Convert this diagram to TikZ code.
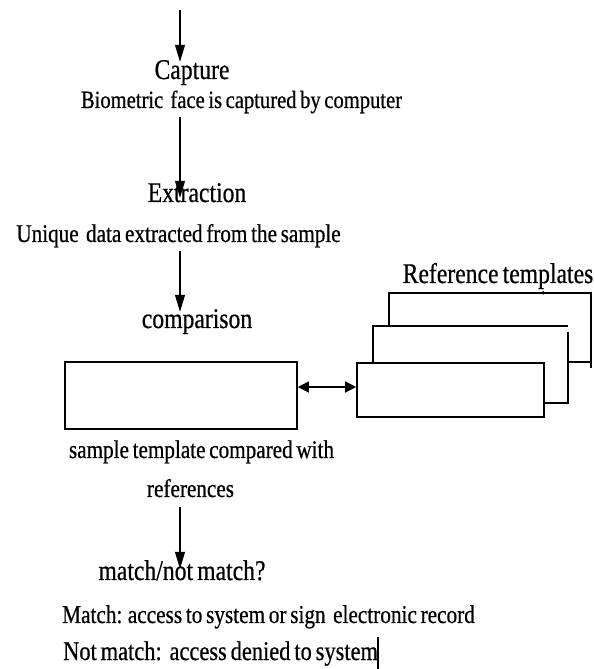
\documentclass[tikz,border=0pt]{standalone}
\usepackage{fontspec}
\setmainfont{Liberation Serif}[FakeStretch=0.83,WordSpace=0.7,FakeBold=0.6]
\usetikzlibrary{arrows.meta}
\begin{document}
\begin{tikzpicture}[x=1pt,y=1pt,
  title/.style={inner sep=0pt,anchor=base,text height=0.7em,text depth=0.2em,
    font=\fontsize{28.5}{31}\selectfont},
  body/.style={inner sep=0pt,anchor=base,text height=0.7em,text depth=0.2em,
    font=\fontsize{25.5}{28}\selectfont},
  flow/.style={line width=1.2pt,-{Triangle[length=17pt,width=10pt]}},
  link/.style={line width=1.4pt,{Triangle[length=11pt,width=11pt]}-{Triangle[length=11pt,width=11pt]}},
  frame/.style={draw,line width=1.6pt,inner sep=0pt},
  edge/.style={line width=1.6pt},
]
\useasboundingbox (0,0) rectangle (594,669);

% process steps and their captions
\coordinate (top) at (180,659);
\node[title] (capture) at (192,590) {Capture};
\node[body,font=\fontsize{24.8}{27}\selectfont] (bio) at (241.5,561)
  {Biometric~~face is captured by computer};
\node[title] (extraction) at (197,467) {Extraction};
\node[body] (unique) at (178.5,427) {Unique~~data extracted from the sample};
\node[title] (comparison) at (197,341) {comparison};

% sample template box
\node[frame,minimum width=232pt,minimum height=67pt] (sample) at (181,273.5) {};
\node[body] (cmp1) at (201.5,211) {sample template compared with};
\node[body] (cmp2) at (190.5,172) {references};
\node[title] (matchq) at (182,89) {match/not match?};
\node[body,anchor=base west,font=\fontsize{25.6}{28}\selectfont] (yes) at (62,46)
  {Match: access to system or sign~~electronic record};
\node[body,anchor=base west,font=\fontsize{27}{30}\selectfont] (no) at (63,9)
  {Not match:~~access denied to system};

% stack of reference templates
\node[frame,minimum width=187pt,minimum height=54pt] (front) at (450.5,279) {};
\node[inner sep=0pt,minimum width=195pt,minimum height=77pt] (mid) at (470.5,304.5) {};
\node[inner sep=0pt,minimum width=202pt,minimum height=69pt] (back) at (490,341.5) {};
\draw[edge] (front.north -| mid.west) -- (mid.north west) -- (mid.north east);
\draw[edge] ([yshift=-6pt]mid.north east) -- ([yshift=-1pt]mid.south east);
\draw[edge] (mid.south east) -- (front.east |- mid.south);
\draw[edge] (mid.north -| back.west) -- (back.north west) -- (back.north east)
  -- ([yshift=-6pt]back.south east);
\draw[edge] (back.south east) -- (mid.east |- back.south);
\fill ([xshift=-48pt]back.north east) circle (1.8pt);
\node[title] (reftitle) at (498,386) {Reference templates};

% flow arrows
\draw[flow] (top) -- ([yshift=10pt]capture.north -| top);
\draw[flow] ([yshift=-7pt]bio.south -| top) -- ([yshift=-3pt]extraction.north -| top);
\draw[flow] ([yshift=-7pt]unique.south -| top) -- ([yshift=9pt]comparison.north -| top);
\draw[flow] ([yshift=-8pt]cmp2.south -| top) -- ([yshift=4pt]matchq.north -| top);
\draw[link] (sample.east |- 0,282) -- (front.west |- 0,282);

% text cursor after the last line
\draw[line width=2.5pt] (378,0) -- (378,32);
\end{tikzpicture}
\end{document}
